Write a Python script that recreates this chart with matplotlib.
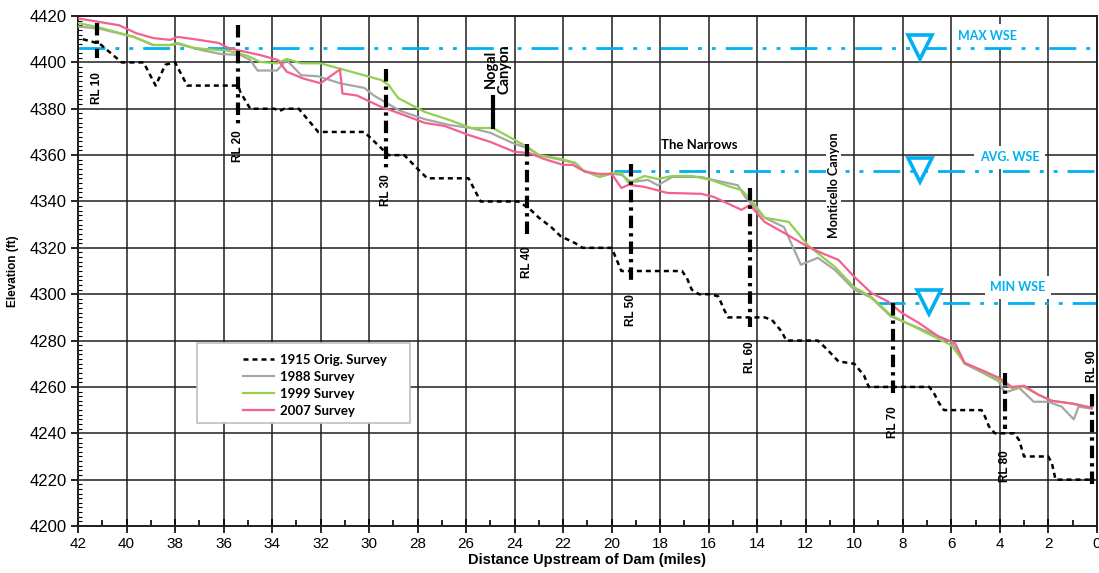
import matplotlib.pyplot as plt
from matplotlib.ticker import MultipleLocator
from matplotlib.patches import Rectangle

# survey profiles (miles upstream, elevation ft)
x1915 = [41.8, 41.1, 40.2, 39.3, 38.8, 38.4, 38.0, 37.5, 35.4, 35.3, 34.9, 33.9, 33.7, 33.5, 32.9,
         32.1, 30.2, 29.6, 29.2, 28.55, 27.9, 27.6, 25.9, 25.4, 23.85, 23.4, 23.0, 22.5, 22.1, 21.5,
         21.2, 20.0, 19.6, 17.1, 16.9, 16.7, 16.4, 15.9, 15.6, 15.35, 15.2, 13.7, 13.4, 13.0, 12.8,
         11.5, 11.1, 10.65, 10.0, 9.6, 9.4, 6.9, 6.7, 6.5, 6.3, 4.75, 4.6, 4.45, 4.2, 3.4, 3.2, 3.0,
         2.0, 1.85, 1.7, 0.1]
y1915 = [4410, 4408, 4400, 4400, 4390, 4399, 4400, 4390, 4390, 4387, 4380, 4380, 4379, 4380, 4380,
         4370, 4370, 4364, 4360, 4360, 4353, 4350, 4350, 4340, 4340, 4337, 4333, 4329, 4325, 4322,
         4320, 4320, 4310, 4310, 4307, 4302, 4300, 4300, 4299, 4293, 4290, 4290, 4289, 4284, 4280,
         4280, 4276, 4271, 4270, 4265, 4260, 4260, 4257, 4253, 4250, 4250, 4247, 4243, 4240, 4240,
         4237, 4230, 4230, 4227, 4220, 4220]

x1988 = [42.0, 41.1, 39.7, 38.9, 38.2, 37.9, 36.9, 36.1, 35.3, 34.9, 34.6, 33.8, 33.4, 32.8, 32.1,
         31.2, 30.2, 29.8, 29.2, 28.7, 27.7, 26.7, 25.8, 25.0, 24.1, 23.4, 23.0, 22.1, 21.5, 21.2,
         20.5, 20.0, 19.6, 19.2, 18.5, 18.1, 17.5, 16.3, 15.9, 14.8, 14.5, 13.7, 12.9, 12.2, 11.5,
         10.8, 10.0, 9.3, 8.5, 6.0, 5.45, 4.6, 4.05, 3.8, 3.2, 2.6, 2.0, 1.45, 0.95, 0.75, 0.2]
y1988 = [4415.5, 4414.5, 4411, 4407.5, 4407.5, 4408, 4405.3, 4403.6, 4403.2, 4401, 4396.5, 4396.5,
         4401, 4394.5, 4394, 4391, 4389, 4385.7, 4382, 4379, 4375.5, 4373, 4371.7, 4369.6, 4365.3,
         4362.7, 4360, 4358, 4356.6, 4353.6, 4350.6, 4352, 4351.5, 4348.4, 4349.3, 4347, 4350.6,
         4350.6, 4349.5, 4347, 4342, 4333, 4329, 4312.7, 4315.7, 4310.5, 4302, 4298.5, 4290.5,
         4279.5, 4270, 4265.5, 4262.5, 4257.5, 4259.6, 4253.6, 4253.6, 4251.5, 4246, 4251.5, 4250.6]

x1999 = [42.0, 41.1, 39.7, 38.9, 38.2, 37.9, 37.2, 35.8, 35.0, 34.5, 33.8, 33.4, 32.8, 32.0, 29.5,
         29.2, 28.8, 27.7, 26.7, 25.8, 24.9, 24.0, 23.4, 23.0, 22.1, 21.5, 21.2, 20.5, 20.0, 19.6,
         19.3, 18.65, 18.1, 17.5, 16.7, 15.9, 15.1, 14.65, 14.25, 13.7, 12.7, 11.9, 10.8, 10.0, 9.3,
         8.5, 6.0, 5.45, 4.6, 4.05, 3.5, 3.0, 2.4, 1.85, 1.0, 0.2]
y1999 = [4417, 4415, 4411, 4407.5, 4407.5, 4408.4, 4406.2, 4405, 4402.8, 4400.2, 4399.6, 4401.5,
         4399.6, 4399.6, 4392.4, 4390.3, 4384.6, 4378.6, 4375.2, 4371.7, 4371.7, 4366.6, 4363, 4360,
         4358.4, 4356.6, 4353.6, 4350.6, 4352.3, 4352.3, 4348, 4351, 4349.7, 4351, 4351, 4349.3,
         4346.3, 4345, 4340.7, 4333, 4331.2, 4321, 4311.8, 4303, 4298.9, 4291, 4278, 4270.4, 4266,
         4263, 4259.5, 4260, 4256.6, 4254, 4252.8, 4251]

x2007 = [42.0, 40.3, 39.6, 38.9, 38.2, 37.9, 37.2, 36.2, 35.8, 35.3, 34.5, 33.75, 33.4, 32.7, 32.0,
         31.2, 31.1, 30.5, 29.5, 28.8, 27.7, 26.9, 25.9, 25.0, 24.0, 23.4, 22.8, 22.0, 21.6, 21.1,
         20.5, 20.0, 19.6, 19.3, 18.65, 17.7, 16.3, 15.8, 14.65, 14.3, 13.7, 12.9, 11.9, 11.35, 10.65,
         10.0, 9.3, 8.6, 8.05, 7.35, 6.5, 5.85, 5.45, 4.6, 4.05, 3.5, 3.0, 2.4, 1.85, 1.0, 0.2]
y2007 = [4419, 4416, 4412.6, 4410.5, 4409.7, 4411, 4410, 4408.4, 4406.2, 4405, 4403.2, 4401, 4396,
         4393, 4391, 4397, 4386.6, 4385.7, 4380.8, 4378.2, 4373.9, 4372.6, 4368.7, 4365.7, 4361.4,
         4360.9, 4358.4, 4355.8, 4355.8, 4352.8, 4351.9, 4351.9, 4345.8, 4347.2, 4346.3, 4343.7,
         4343.3, 4342, 4336.4, 4338.5, 4331.2, 4326.5, 4320.4, 4317.8, 4314.8, 4307.5, 4300.6,
         4296.8, 4292, 4287.7, 4281.6, 4279, 4270.4, 4266.6, 4264, 4260, 4260.5, 4256.6, 4254,
         4252.8, 4251]

# water surface elevations
wse_names = ['MAX WSE', 'AVG. WSE', 'MIN WSE']
wse_level = [4406, 4353, 4296]
wse_start = [42.0, 19.9, 9.0]
wse_tri_x = [7.3, 7.3, 6.9]
wse_text_x = [4.5, 3.6, 3.25]
wse_text_y = [4411.5, 4359, 4303]

# range lines
rl_names = ['RL 10', 'RL 20', 'RL 30', 'RL 40', 'RL 50', 'RL 60', 'RL 70', 'RL 80', 'RL 90']
rl_x = [41.2, 35.4, 29.3, 23.5, 19.2, 14.3, 8.4, 3.8, 0.18]
rl_top = [4417, 4416, 4397, 4365, 4356, 4346, 4296, 4266, 4257]
rl_bot = [4402, 4372, 4354, 4324, 4306, 4286, 4256, 4242, 4216]
rl_text_y = [4389, 4364, 4345, 4314, 4293, 4273, 4245, 4226, 4269]

blue = '#00b0f0'

fig = plt.figure(figsize=(10.99, 5.73), dpi=100)
ax = fig.add_axes([0.071, 0.082, 0.927, 0.890])

ax.plot(x1915, y1915, color='black', lw=1.8, ls=(0, (2, 1.6)), label='1915 Orig. Survey', zorder=3)
ax.plot(x1988, y1988, color='#a6a6a6', lw=1.6, label='1988 Survey', zorder=3)
ax.plot(x1999, y1999, color='#92d050', lw=1.6, label='1999 Survey', zorder=3)
ax.plot(x2007, y2007, color='#f4608f', lw=1.6, label='2007 Survey', zorder=4)

for lev, x0, tx, name, lx, ly in zip(wse_level, wse_start, wse_tri_x, wse_names, wse_text_x, wse_text_y):
    ax.plot([x0, 0], [lev, lev], color=blue, lw=2, ls=(0, (9.7, 3.6, 1.4, 3.6, 1.4, 3.6)), zorder=2)
    ax.plot(tx, lev + 0.5, marker='v', ms=17, mfc='white', mec=blue, mew=2.6, zorder=5)
    ax.text(lx, ly, name, color=blue, fontsize=9, fontweight='bold', family=['Lato', 'DejaVu Sans'],
            ha='center', va='center', zorder=4,
            bbox=dict(boxstyle='square,pad=0.45', fc='white', ec='none'))

for name, x, t, b, ty in zip(rl_names, rl_x, rl_top, rl_bot, rl_text_y):
    ax.plot([x, x], [t, b], color='black', lw=3, ls=(0, (3, 1.2, 0.8, 1.2)), zorder=5)
    ax.text(x, ty, name, rotation=90, ha='center', va='center', fontsize=8.5, fontweight='bold',
            family=['Liberation Sans', 'DejaVu Sans'], zorder=5)

# canyon / reach annotations
ax.plot([24.9, 24.9], [4372, 4385], color='black', lw=3, zorder=5)
ax.text(24.7, 4397, 'Nogal\nCanyon', rotation=90, ha='center', va='center', fontsize=10.5,
        fontweight='bold', family=['Lato', 'DejaVu Sans'], linespacing=1.0)
ax.text(16.4, 4364.5, 'The Narrows', ha='center', va='center', fontsize=9.5,
        fontweight='bold', family=['Lato', 'DejaVu Sans'])
ax.text(10.85, 4347, 'Monticello Canyon', rotation=90, ha='center', va='center', fontsize=9,
        fontweight='bold', family=['Lato', 'DejaVu Sans'], zorder=4,
        bbox=dict(boxstyle='square,pad=0.1', fc='white', ec='none'))

ax.set_xlim(42, 0)
ax.set_ylim(4200, 4420)
ax.xaxis.set_major_locator(MultipleLocator(2))
ax.xaxis.set_minor_locator(MultipleLocator(1))
ax.yaxis.set_major_locator(MultipleLocator(20))
ax.yaxis.set_minor_locator(MultipleLocator(2))
ax.grid(which='major', color='#1f1f1f', lw=1.1)
ax.set_axisbelow(True)
ax.tick_params(axis='x', which='major', direction='inout', length=10, width=1.2, pad=3, labelsize=11)
ax.tick_params(axis='x', which='minor', direction='in', length=4, width=1.2)
ax.tick_params(axis='y', which='major', direction='out', length=5, width=1.2, pad=3, labelsize=12)
ax.tick_params(axis='y', which='minor', direction='in', length=3, width=0.8)
for lab in ax.get_xticklabels() + ax.get_yticklabels():
    lab.set_family(['Liberation Sans', 'DejaVu Sans'])
for sp in ax.spines.values():
    sp.set_linewidth(1.4)
    sp.set_color('#1f1f1f')

ax.set_xlabel('Distance Upstream of Dam (miles)', fontsize=10.5, fontweight='bold',
              family=['Liberation Sans', 'DejaVu Sans'], labelpad=1)
ax.set_ylabel('Elevation (ft)', fontsize=8.5, fontweight='bold',
              family=['Liberation Sans', 'DejaVu Sans'], labelpad=8)

# legend frame drawn separately so the entries sit right of a blank margin like the original
ax.add_patch(Rectangle((0.1168, 0.202), 0.209, 0.157, transform=ax.transAxes,
                       fc='white', ec='#bfbfbf', lw=1.2, zorder=6))
leg = ax.legend(loc='upper left', bbox_to_anchor=(0.152, 0.358), frameon=False, borderpad=0.3,
                labelspacing=0.38, handlelength=2.3, handletextpad=0.5,
                prop={'family': ['Lato', 'DejaVu Sans'], 'weight': 'bold', 'size': 9.5})
leg.set_zorder(7)

fig.savefig('out.png', dpi=100)
